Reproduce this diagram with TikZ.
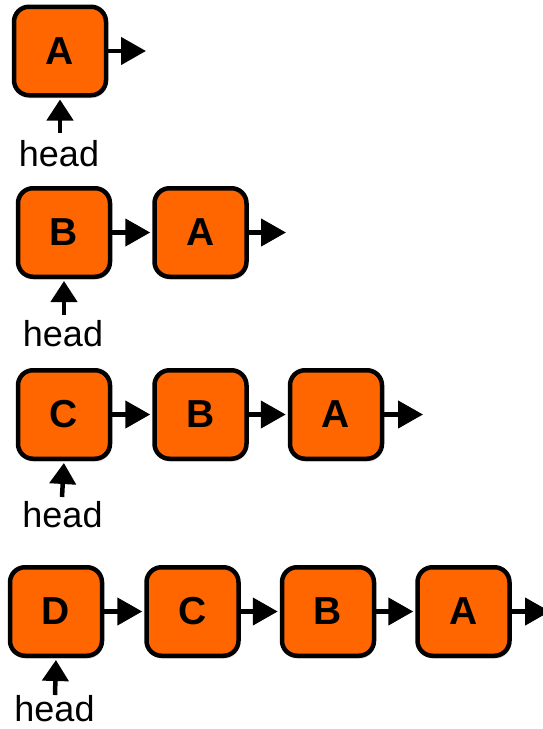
\documentclass[tikz,border=0pt]{standalone}
\usepackage{fontspec}
\setmainfont{Liberation Sans}
\usetikzlibrary{arrows.meta,shadows}
\definecolor{nodeorange}{HTML}{FF6600}
\tikzset{
  listbox/.style={draw=black, line width=4.5pt, fill=nodeorange, rounded corners=15pt,
    minimum width=92pt, minimum height=88.5pt, inner sep=0pt,
    font=\fontsize{39}{42}\selectfont\bfseries,
    drop shadow={shadow xshift=1pt, shadow yshift=-3pt, opacity=0.25}},
  ptr/.style={line width=4.5pt, -{Triangle[length=25pt,width=27pt]}, shorten >=2pt},
  headptr/.style={line width=4.5pt, -{Triangle[length=21pt,width=26pt]}, shorten >=2pt},
  headlabel/.style={font=\fontsize{36}{40}\selectfont, inner sep=0pt, anchor=base}
}
\begin{document}
\begin{tikzpicture}[x=1pt,y=-1pt]
\useasboundingbox (0,0) rectangle (543,729);
% row 1
\node[listbox] (r1a) at (60,51) {A};
\coordinate (r1e) at (148,51);
\coordinate (r1t) at (60,133);
\node[headlabel] (r1h) at (59,166) {head};
\draw[ptr] (r1a.east) -- (r1e);
\draw[headptr] (r1t) -- (r1a.south);
% row 2
\node[listbox] (r2b) at (64,232.5) {B};
\node[listbox] (r2a) at (200.5,232.5) {A};
\coordinate (r2e) at (288,232.5);
\coordinate (r2t) at (64,315);
\node[headlabel] (r2h) at (63,346) {head};
\draw[ptr] (r2b.east) -- (r2a.west);
\draw[ptr] (r2a.east) -- (r2e);
\draw[headptr] (r2t) -- (r2b.south);
% row 3
\node[listbox] (r3c) at (64,414.5) {C};
\node[listbox] (r3b) at (200.5,414.5) {B};
\node[listbox] (r3a) at (336,414.5) {A};
\coordinate (r3e) at (425,414.5);
\coordinate (r3t) at (62,497);
\node[headlabel] (r3h) at (62.5,527) {head};
\draw[ptr] (r3c.east) -- (r3b.west);
\draw[ptr] (r3b.east) -- (r3a.west);
\draw[ptr] (r3a.east) -- (r3e);
\draw[headptr] (r3t) -- (r3c.south);
% row 4
\node[listbox] (r4d) at (56,611.5) {D};
\node[listbox] (r4c) at (192.5,611.5) {C};
\node[listbox] (r4b) at (328,611.5) {B};
\node[listbox] (r4a) at (463.5,611.5) {A};
\coordinate (r4e) at (552,611.5);
\coordinate (r4t) at (55,695);
\node[headlabel] (r4h) at (54.5,721) {head};
\draw[ptr] (r4d.east) -- (r4c.west);
\draw[ptr] (r4c.east) -- (r4b.west);
\draw[ptr] (r4b.east) -- (r4a.west);
\draw[ptr] (r4a.east) -- (r4e);
\draw[headptr] (r4t) -- (r4d.south);
\end{tikzpicture}
\end{document}
